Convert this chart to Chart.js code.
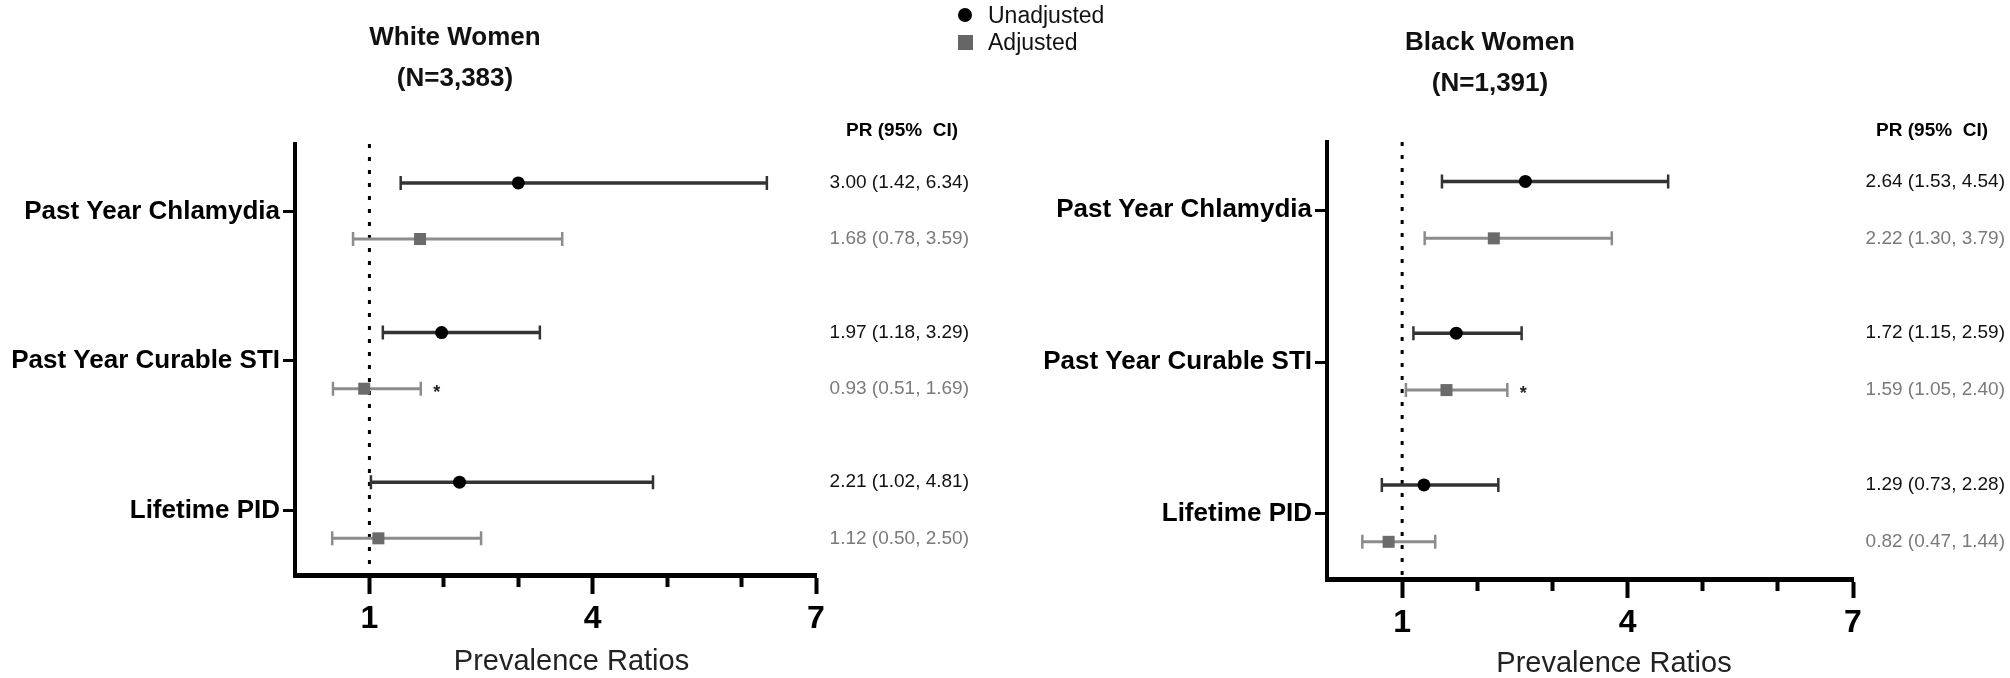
<!DOCTYPE html>
<html>
<head>
<meta charset="utf-8">
<script src="https://cdn.jsdelivr.net/npm/chart.js@4.4.1/dist/chart.umd.min.js"></script>
<style>
    body { margin: 0; background: #fff; }
    #wrap { position: relative; width: 2010px; height: 678px; font-family: 'Liberation Sans', Arial, sans-serif; color: #000; }
    #wrap canvas { position: absolute; top: 0; }
    .title { position: absolute; width: 400px; text-align: center; font-weight: bold; font-size: 26px; line-height: 41px; color: #111; }
    .key { position: absolute; left: 958px; }
    .key-text { position: absolute; left: 988px; font-size: 23px; line-height: 23px; color: #111; white-space: nowrap; }
</style>
</head>
<body>
<div id="wrap">
    <canvas id="white" width="1005" height="678" style="left:0"></canvas>
    <canvas id="black" width="1005" height="678" style="left:1005px"></canvas>

    <div class="title" style="left:255px; top:16px">White Women<br>(N=3,383)</div>
    <div class="title" style="left:1290px; top:21px">Black Women<br>(N=1,391)</div>

    <div class="key" style="top:8px; width:14px; height:14px; border-radius:50%; background:#000"></div>
    <div class="key-text" style="top:4px">Unadjusted</div>
    <div class="key" style="top:35px; width:15px; height:15px; background:#666"></div>
    <div class="key-text" style="top:31px">Adjusted</div>
</div>

<script>
Chart.defaults.font.family = "'Liberation Sans', Arial, sans-serif";
Chart.defaults.color = "#000";

const categories = ["Past Year Chlamydia", "Past Year Curable STI", "Lifetime PID"];
const xTickLabels = [1, 4, 7];
const xTitle = "Prevalence Ratios";
const nullValue = 1;
const starRows = [false, true, false];

// white women
const whiteUnadjEst = [3.00, 1.97, 2.21];
const whiteUnadjLow = [1.42, 1.18, 1.02];
const whiteUnadjHigh = [6.34, 3.29, 4.81];
const whiteAdjEst = [1.68, 0.93, 1.12];
const whiteAdjLow = [0.78, 0.51, 0.50];
const whiteAdjHigh = [3.59, 1.69, 2.50];

// black women
const blackUnadjEst = [2.64, 1.72, 1.29];
const blackUnadjLow = [1.53, 1.15, 0.73];
const blackUnadjHigh = [4.54, 2.59, 2.28];
const blackAdjEst = [2.22, 1.59, 0.82];
const blackAdjLow = [1.30, 1.05, 0.47];
const blackAdjHigh = [3.79, 2.40, 1.44];

// row shift of each series around its category line
const unadjShift = -0.19;
const adjShift = 0.185;

const forestPlugin = {
    id: "forest",
    beforeDatasetsDraw(chart) {
        const { ctx, chartArea, scales: { x, y } } = chart;
        const xn = x.getPixelForValue(nullValue);
        ctx.save();
        ctx.strokeStyle = "#000";
        ctx.lineWidth = 3;
        ctx.setLineDash([4, 9]);
        ctx.beginPath();
        ctx.moveTo(xn, chartArea.top);
        ctx.lineTo(xn, chartArea.bottom);
        ctx.stroke();
        ctx.setLineDash([]);

        chart.data.datasets.forEach(ds => {
            ds.data.forEach((p, i) => {
                const py = y.getPixelForValue(p.y);
                const x1 = x.getPixelForValue(ds.low[i]);
                const x2 = x.getPixelForValue(ds.high[i]);
                ctx.strokeStyle = ds.barColor;
                ctx.lineWidth = ds.barWidth;
                ctx.beginPath();
                ctx.moveTo(x1, py);
                ctx.lineTo(x2, py);
                ctx.stroke();
                ctx.lineWidth = 2.5;
                ctx.beginPath();
                ctx.moveTo(x1, py - 7);
                ctx.lineTo(x1, py + 7);
                ctx.moveTo(x2, py - 7);
                ctx.lineTo(x2, py + 7);
                ctx.stroke();
            });
        });
        ctx.restore();
    },
    afterDraw(chart, args, opts) {
        const { ctx, chartArea, scales: { x, y } } = chart;
        ctx.save();
        ctx.textAlign = "right";
        ctx.textBaseline = "middle";
        ctx.fillStyle = "#000";
        ctx.font = "bold 19px 'Liberation Sans', Arial, sans-serif";
        ctx.fillText("PR (95%  CI)", opts.headerRight, opts.headerY);

        // axis title, a little right of the axis centre as in the source
        ctx.textAlign = "center";
        ctx.fillStyle = "#222";
        ctx.font = "29px 'Liberation Sans', Arial, sans-serif";
        ctx.fillText(xTitle, (chartArea.left + chartArea.right) / 2 + opts.titleShift, opts.titleY);

        chart.data.datasets.forEach(ds => {
            ds.data.forEach((p, i) => {
                const py = y.getPixelForValue(p.y);
                ctx.fillStyle = ds.textColor;
                ctx.textAlign = "right";
                ctx.textBaseline = "middle";
                ctx.font = "19px 'Liberation Sans', Arial, sans-serif";
                const txt = p.x.toFixed(2) + " (" + ds.low[i].toFixed(2) + ", " + ds.high[i].toFixed(2) + ")";
                ctx.fillText(txt, opts.labelRight, py);
                if (ds.stars && ds.stars[i]) {
                    ctx.fillStyle = "#222";
                    ctx.textAlign = "center";
                    ctx.textBaseline = "alphabetic";
                    ctx.font = "bold 18px 'Liberation Sans', Arial, sans-serif";
                    ctx.fillText("*", x.getPixelForValue(ds.high[i]) + 16, py + 9);
                }
            });
        });
        ctx.restore();
    }
};

function makeForest(id, unadj, adj, box) {
    new Chart(document.getElementById(id), {
        type: "scatter",
        data: {
            datasets: [{
                label: "Unadjusted",
                data: unadj.est.map((v, i) => ({ x: v, y: i + unadjShift })),
                low: unadj.low,
                high: unadj.high,
                barColor: "#333",
                barWidth: 3.5,
                textColor: "#111",
                pointStyle: "circle",
                pointRadius: 6.5,
                backgroundColor: "#000",
                borderWidth: 0
            }, {
                label: "Adjusted",
                data: adj.est.map((v, i) => ({ x: v, y: i + adjShift })),
                low: adj.low,
                high: adj.high,
                stars: starRows,
                barColor: "#8c8c8c",
                barWidth: 3,
                textColor: "#7a7a7a",
                pointStyle: "rect",
                pointRadius: 8.5,
                backgroundColor: "#6b6b6b",
                borderWidth: 0
            }]
        },
        options: {
            responsive: false,
            animation: false,
            events: [],
            layout: { padding: { top: box.top, right: box.right, left: 0, bottom: 0 } },
            plugins: {
                legend: { display: false },
                tooltip: { enabled: false },
                forest: {
                    labelRight: box.labelRight,
                    headerRight: box.headerRight,
                    headerY: 131,
                    titleShift: box.titleShift,
                    titleY: box.titleY
                }
            },
            scales: {
                x: {
                    type: "linear",
                    min: 0,
                    max: 7,
                    afterFit: s => { s.height = box.xHeight; },
                    ticks: {
                        stepSize: 1,
                        autoSkip: false,
                        maxRotation: 0,
                        padding: 6,
                        font: { size: 32, weight: "bold" },
                        callback: v => xTickLabels.includes(v) ? v : ""
                    },
                    grid: {
                        drawOnChartArea: false,
                        tickLength: 19,
                        tickWidth: 4,
                        tickColor: c => (c.tick && c.tick.value === 0) ? "rgba(0,0,0,0)" : "#000",
                        tickBorderDash: c => (c.tick && xTickLabels.includes(c.tick.value)) ? [] : [9, 40]
                    },
                    border: { width: 5, color: "#000" }
                },
                y: {
                    type: "linear",
                    reverse: true,
                    min: -0.45,
                    max: 2.43,
                    afterFit: s => { s.width = box.yWidth; },
                    afterBuildTicks: s => { s.ticks = categories.map((c, i) => ({ value: i })); },
                    ticks: {
                        padding: 3,
                        font: { size: 26, weight: "bold" },
                        callback: v => categories[v]
                    },
                    grid: {
                        drawOnChartArea: false,
                        tickLength: 12,
                        tickWidth: 3,
                        tickColor: "#000"
                    },
                    border: { width: 4, color: "#000" }
                }
            }
        },
        plugins: [forestPlugin]
    });
}

makeForest("white",
    { est: whiteUnadjEst, low: whiteUnadjLow, high: whiteUnadjHigh },
    { est: whiteAdjEst, low: whiteAdjLow, high: whiteAdjHigh },
    { top: 144, right: 189, yWidth: 295, xHeight: 103, labelRight: 969, headerRight: 958, titleShift: 16, titleY: 662 });

makeForest("black",
    { est: blackUnadjEst, low: blackUnadjLow, high: blackUnadjHigh },
    { est: blackAdjEst, low: blackAdjLow, high: blackAdjHigh },
    { top: 142, right: 157, yWidth: 322, xHeight: 99, labelRight: 1000, headerRight: 983, titleShift: 24, titleY: 664 });
</script>
</body>
</html>
